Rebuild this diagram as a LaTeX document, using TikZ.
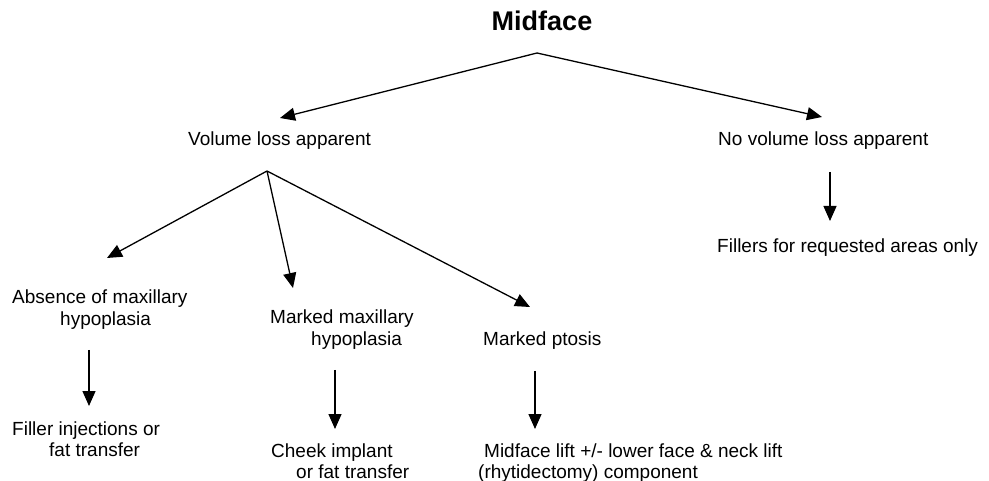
\documentclass[tikz,border=0pt]{standalone}
\usepackage{fontspec}
\setmainfont{Liberation Sans}
\usetikzlibrary{arrows.meta}
\begin{document}
\begin{tikzpicture}[x=1pt,y=-1pt,
  lbl/.style={inner sep=0pt,anchor=base west,align=left,font=\fontsize{19}{21.5}\selectfont},
  ttl/.style={inner sep=0pt,anchor=base,font=\fontsize{27}{30}\selectfont\bfseries},
  arr/.style={line width=1.3pt,-{Triangle[length=15pt,width=13pt]}}]
\useasboundingbox (0,0) rectangle (989,481);
% texts (base = baseline of the last line)
\node[ttl] (mid) at (542,31) {Midface};
\node[lbl] (vol) at (188,146) {Volume loss apparent};
\node[lbl] (novol) at (718,146) {No volume loss apparent};
\node[lbl] (fill) at (717,253) {Fillers for requested areas only};
\node[lbl] (abs) at (12,325.5) {Absence of maxillary\\\hspace*{48pt}hypoplasia};
\node[lbl] (inj) at (12,456.5) {Filler injections or\\\hspace*{37pt}fat transfer};
\node[lbl] (mmh) at (270,345.5) {Marked maxillary\\\hspace*{41pt}hypoplasia};
\node[lbl] (chk) at (271,478.5) {Cheek implant\\\hspace*{25pt}or fat transfer};
\node[lbl] (pto) at (483,346) {Marked ptosis};
\node[lbl] (lift) at (478,478.5) {\hspace*{6pt}Midface lift +/- lower face \& neck lift\\(rhytidectomy) component};
% branch points and arrow ends
\coordinate (a1) at (537,53);
\coordinate (a2) at (267,171);
\coordinate (t-vol) at (280,118);
\coordinate (t-novol) at (822,117);
\coordinate (t-abs) at (107,258);
\coordinate (t-mmh) at (293,288);
\coordinate (t-pto) at (530,307);
\coordinate (s-novol) at (830,172);
\coordinate (t-fill) at (830,221);
\coordinate (s-abs) at (89,350);
\coordinate (t-inj) at (89,406);
\coordinate (s-mmh) at (335,370);
\coordinate (t-chk) at (335,429);
\coordinate (s-pto) at (535,371);
\coordinate (t-lift) at (535,429);
% connectors
\draw[arr] (a1) -- (t-vol);
\draw[arr] (a1) -- (t-novol);
\draw[arr] (a2) -- (t-abs);
\draw[arr] (a2) -- (t-mmh);
\draw[arr] (a2) -- (t-pto);
\draw[arr] (s-novol) -- (t-fill);
\draw[arr] (s-abs) -- (t-inj);
\draw[arr] (s-mmh) -- (t-chk);
\draw[arr] (s-pto) -- (t-lift);
\end{tikzpicture}
\end{document}
